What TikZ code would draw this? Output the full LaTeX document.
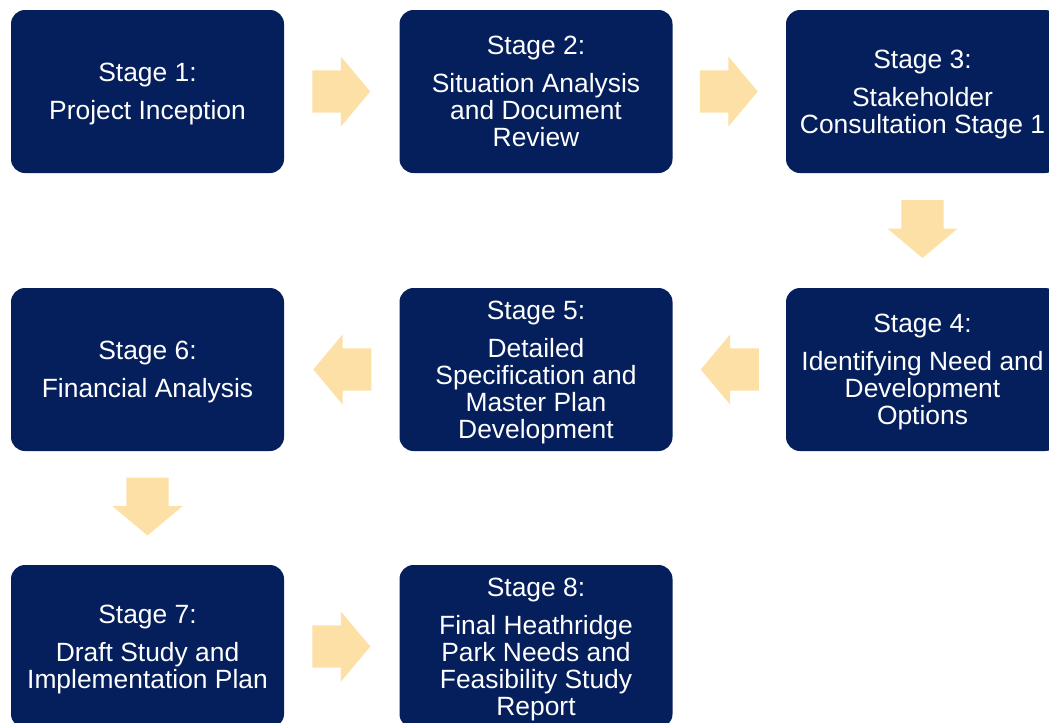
\documentclass[tikz,border=0pt]{standalone}
\usepackage{fontspec}
\setmainfont{Liberation Sans}
\usetikzlibrary{shapes.arrows,calc}

\definecolor{stagenavy}{RGB}{5,31,92}
\definecolor{arrowsand}{RGB}{252,224,166}

\tikzset{every picture/.style={line width=0.75pt}}
\tikzset{
  stagebox/.style={fill=stagenavy, rounded corners=10.5pt, minimum width=204.75pt, minimum height=122.25pt,
    inner sep=0pt, text=white, align=center, text depth=0pt, font=\fontsize{19.8}{20.3}\selectfont},
  flowarrow/.style={single arrow, anchor=tail, fill=arrowsand, draw=none, inner xsep=0pt, inner ysep=15.4pt,
    minimum height=43.5pt, single arrow head extend=10.5pt, single arrow tip angle=100, single arrow head indent=0pt}
}

\begin{document}
\begin{tikzpicture}[x=0.75pt,y=0.75pt,yscale=-1,xscale=1]
\useasboundingbox (0,0) rectangle (1049,722);

%Shape: Rounded stage boxes, row 1
\node [stagebox] (s1) at (147.5,91.5) {Stage 1:\\[8.3pt]Project Inception};
\node [stagebox] (s2) at (536,91.5) {Stage 2:\\[8.3pt]Situation Analysis\\and Document\\Review};
\node [stagebox] (s3) at (922.5,91.5) {Stage 3:\\[8.3pt]Stakeholder\\Consultation Stage 1};
%Shape: Rounded stage boxes, row 2
\node [stagebox] (s4) at (922.5,369.5) {Stage 4:\\[8.3pt]Identifying Need and\\Development\\Options};
\node [stagebox] (s5) at (536,369.5) {Stage 5:\\[8.3pt]Detailed\\Specification and\\Master Plan\\Development};
\node [stagebox] (s6) at (147.5,369.5) {Stage 6:\\[8.3pt]Financial Analysis};
%Shape: Rounded stage boxes, row 3
\node [stagebox] (s7) at (147.5,646.5) {Stage 7:\\[8.3pt]Draft Study and\\Implementation Plan};
\node [stagebox] (s8) at (536,646.5) {Stage 8:\\[8.3pt]Final Heathridge\\Park Needs and\\Feasibility Study\\Report};

%Shape: Block arrows between stages (tail set half a length back from the gap's middle)
\node [flowarrow] (a12) at ($(s1.east)!0.5!(s2.west)+(-30,0)$) {};
\node [flowarrow] (a23) at ($(s2.east)!0.5!(s3.west)+(-30,0)$) {};
\node [flowarrow, rotate=-90] (a34) at ($(s3.south)!0.5!(s4.north)+(0,-31)$) {};
\node [flowarrow, rotate=180] (a45) at ($(s4.west)!0.5!(s5.east)+(30,0)$) {};
\node [flowarrow, rotate=180] (a56) at ($(s5.west)!0.5!(s6.east)+(30,0)$) {};
\node [flowarrow, rotate=-90] (a67) at ($(s6.south)!0.5!(s7.north)+(0,-31)$) {};
\node [flowarrow] (a78) at ($(s7.east)!0.5!(s8.west)+(-30,0)$) {};

\end{tikzpicture}
\end{document}
